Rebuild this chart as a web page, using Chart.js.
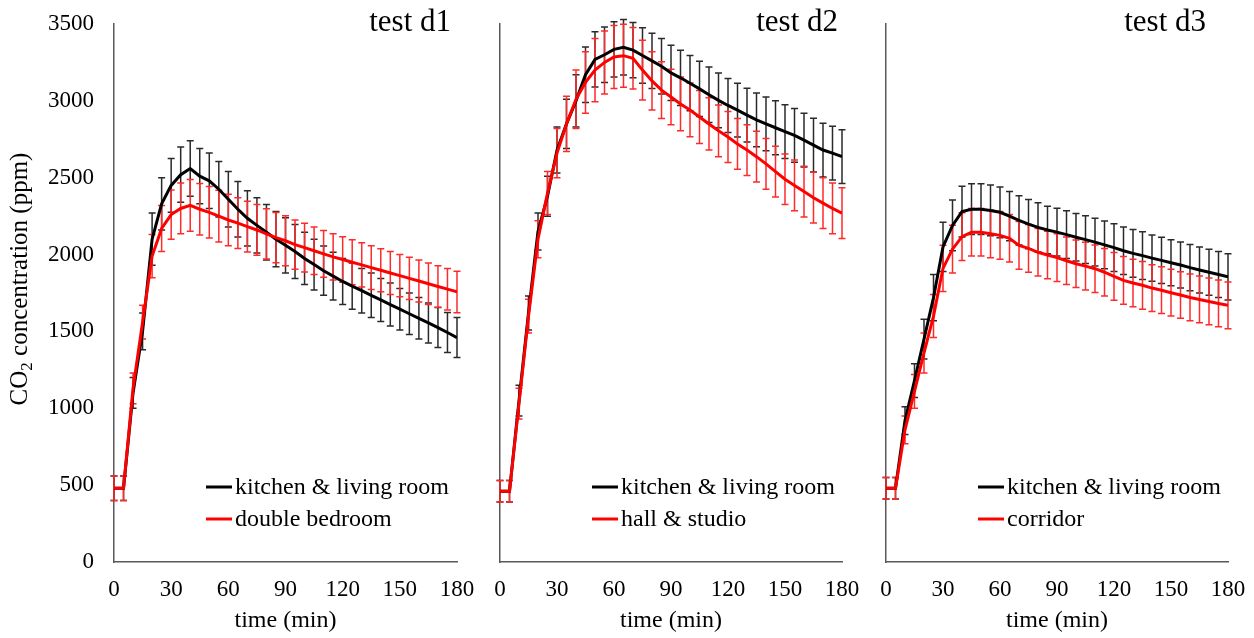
<!DOCTYPE html>
<html>
<head>
<meta charset="utf-8">
<script src="https://cdn.jsdelivr.net/npm/chart.js@4.4.1/dist/chart.umd.min.js"></script>
<style>
  body { margin: 0; background: #fff; width: 1254px; height: 638px; overflow: hidden; position: relative; }
  canvas { position: absolute; top: 0; }
</style>
</head>
<body>
<canvas id="d1" width="477" height="638" style="left:0px"></canvas>
<canvas id="d2" width="385" height="638" style="left:480px"></canvas>
<canvas id="d3" width="388" height="638" style="left:866px"></canvas>
<script>
// time (min), one reading every 5 minutes
var times = [0, 5, 10, 15, 20, 25, 30, 35, 40, 45, 50, 55, 60, 65, 70, 75, 80, 85, 90,
  95, 100, 105, 110, 115, 120, 125, 130, 135, 140, 145, 150, 155, 160, 165, 170, 175, 180];
var xTicks = [0, 30, 60, 90, 120, 150, 180];
var yTicks = [0, 500, 1000, 1500, 2000, 2500, 3000, 3500];

// test d1
var d1Kitchen = [480, 480, 1100, 1500, 2100, 2330, 2450, 2520, 2560, 2510, 2480, 2425, 2360, 2295, 2236, 2190, 2145, 2100, 2060,
  2020, 1975, 1935, 1895, 1860, 1825, 1795, 1765, 1735, 1705, 1675, 1645, 1615, 1585, 1555, 1525, 1493, 1460];
var d1KitchenErr = [80, 80, 100, 120, 170, 170, 175, 180, 180, 180, 180, 180, 180, 180, 180, 180, 180, 180, 180,
  175, 170, 165, 160, 155, 150, 150, 145, 145, 140, 140, 135, 135, 135, 130, 130, 130, 130];
var d1Bedroom = [480, 480, 1130, 1560, 1990, 2170, 2260, 2300, 2320, 2295, 2275, 2250, 2225, 2205, 2182, 2160, 2135, 2110, 2090,
  2065, 2045, 2025, 2005, 1985, 1968, 1950, 1933, 1915, 1898, 1880, 1863, 1845, 1828, 1810, 1792, 1775, 1757];
var d1BedroomErr = [80, 80, 100, 110, 140, 150, 160, 165, 168, 168, 168, 168, 168, 165, 165, 165, 163, 163, 163,
  160, 158, 155, 152, 150, 148, 146, 144, 142, 140, 140, 138, 137, 136, 135, 135, 135, 135];

// test d2
var d2Kitchen = [460, 460, 1050, 1620, 2150, 2380, 2680, 2850, 3000, 3170, 3270, 3300, 3335, 3349, 3330, 3295, 3260, 3225, 3182,
  3150, 3115, 3078, 3040, 3003, 2970, 2940, 2907, 2876, 2850, 2825, 2800, 2775, 2745, 2712, 2680, 2660, 2637];
var d2KitchenErr = [70, 70, 100, 110, 120, 130, 150, 160, 170, 180, 180, 180, 180, 180, 180, 180, 180, 180, 180,
  180, 180, 180, 180, 178, 176, 175, 175, 175, 175, 175, 175, 175, 175, 175, 175, 175, 175];
var d2Hall = [460, 460, 1030, 1600, 2100, 2400, 2660, 2850, 3010, 3120, 3200, 3250, 3285, 3294, 3277, 3200, 3130, 3070, 3025,
  2980, 2941, 2895, 2850, 2805, 2765, 2720, 2680, 2637, 2590, 2540, 2490, 2450, 2410, 2370, 2335, 2300, 2269];
var d2HallErr = [70, 70, 100, 110, 120, 140, 160, 180, 190, 200, 205, 205, 205, 205, 200, 195, 190, 185, 180,
  175, 175, 172, 170, 168, 166, 165, 165, 165, 165, 165, 165, 165, 165, 165, 165, 165, 165];

// test d3
var d3Kitchen = [480, 480, 920, 1180, 1450, 1720, 2050, 2190, 2280, 2295, 2295, 2287, 2275, 2250, 2222, 2198, 2177, 2160, 2146,
  2130, 2113, 2097, 2081, 2063, 2045, 2025, 2008, 1993, 1977, 1962, 1947, 1932, 1915, 1900, 1885, 1870, 1855];
var d3KitchenErr = [70, 70, 90, 110, 130, 150, 160, 165, 165, 165, 165, 165, 165, 160, 160, 160, 160, 155, 155,
  155, 155, 155, 155, 155, 155, 155, 155, 155, 150, 150, 150, 150, 150, 150, 150, 150, 150];
var d3Corridor = [480, 480, 860, 1110, 1360, 1600, 1910, 2035, 2117, 2145, 2145, 2135, 2125, 2106, 2060, 2040, 2015, 1997, 1980,
  1960, 1940, 1925, 1908, 1885, 1858, 1832, 1815, 1800, 1782, 1768, 1752, 1737, 1721, 1708, 1695, 1682, 1670];
var d3CorridorErr = [70, 70, 90, 110, 130, 140, 150, 155, 155, 155, 155, 155, 155, 155, 155, 155, 155, 155, 155,
  155, 155, 155, 155, 155, 155, 155, 155, 155, 152, 152, 152, 152, 152, 152, 152, 152, 152];

var serif = '"Liberation Serif", "Times New Roman", serif';

function pts(vals) {
  return vals.map(function (v, i) { return { x: times[i], y: v }; });
}

// error bars with small caps, drawn under the lines
var errorBars = {
  id: 'errorBars',
  beforeDatasetsDraw: function (chart) {
    var ctx = chart.ctx, xs = chart.scales.x, ys = chart.scales.y;
    chart.data.datasets.forEach(function (ds) {
      ctx.save();
      ctx.strokeStyle = ds.errorColor;
      ctx.lineWidth = 1.5;
      ds.data.forEach(function (p, i) {
        var x = xs.getPixelForValue(p.x);
        var top = ys.getPixelForValue(p.y + ds.errors[i]);
        var bot = ys.getPixelForValue(p.y - ds.errors[i]);
        ctx.beginPath();
        ctx.moveTo(x, top); ctx.lineTo(x, bot);
        ctx.moveTo(x - 3.5, top); ctx.lineTo(x + 3.5, top);
        ctx.moveTo(x - 3.5, bot); ctx.lineTo(x + 3.5, bot);
        ctx.stroke();
      });
      ctx.restore();
    });
  }
};

// panel title, in-plot legend and (first panel) the rotated y title
var panelText = {
  id: 'panelText',
  afterDraw: function (chart) {
    var o = chart.options.plugins.panelText, a = chart.chartArea, ctx = chart.ctx;
    ctx.save();
    ctx.fillStyle = '#000';
    ctx.font = '31px ' + serif;
    ctx.textAlign = 'right';
    ctx.textBaseline = 'alphabetic';
    ctx.fillText(o.title, a.right - o.titleInset, 31);

    ctx.font = '24px ' + serif;
    ctx.textAlign = 'left';
    ctx.textBaseline = 'middle';
    chart.data.datasets.forEach(function (ds, i) {
      var y = 487 + i * 32, x = a.left + 92;
      ctx.strokeStyle = ds.borderColor;
      ctx.lineWidth = 3;
      ctx.beginPath(); ctx.moveTo(x, y); ctx.lineTo(x + 26, y); ctx.stroke();
      ctx.fillText(ds.label, x + 29, y + 1);
    });

    if (o.yTitle) {
      var big = '25px ' + serif, small = '17px ' + serif;
      ctx.font = big;
      var w1 = ctx.measureText('CO').width, w3 = ctx.measureText(' concentration (ppm)').width;
      ctx.font = small;
      var w2 = ctx.measureText('2').width;
      var total = w1 + w2 + w3;
      ctx.translate(27, 279);
      ctx.rotate(-Math.PI / 2);
      ctx.textBaseline = 'alphabetic';
      var x0 = -total / 2;
      ctx.font = big; ctx.fillText('CO', x0, 0);
      ctx.font = small; ctx.fillText('2', x0 + w1, 5);
      ctx.font = big; ctx.fillText(' concentration (ppm)', x0 + w1 + w2, 0);
    }
    ctx.restore();
  }
};

function makePanel(id, title, titleInset, names, series, errs, showY, yWidth, rightPad) {
  new Chart(document.getElementById(id), {
    type: 'line',
    data: {
      datasets: [
        { label: names[0], data: pts(series[0]), errors: errs[0], borderColor: '#000000', errorColor: '#2a2a2a',
          borderWidth: 3, pointRadius: 0, tension: 0, order: 1 },
        { label: names[1], data: pts(series[1]), errors: errs[1], borderColor: '#ff0000', errorColor: '#ff2a2a',
          borderWidth: 3, pointRadius: 0, tension: 0, order: 0 }
      ]
    },
    options: {
      responsive: false,
      animation: false,
      layout: { padding: { left: 0, top: 24, right: rightPad, bottom: 0 } },
      plugins: {
        legend: { display: false },
        tooltip: { enabled: false },
        panelText: { title: title, titleInset: titleInset, yTitle: showY }
      },
      scales: {
        x: {
          type: 'linear', min: 0, max: 180,
          afterBuildTicks: function (s) { s.ticks = xTicks.map(function (v) { return { value: v }; }); },
          afterFit: function (s) { s.height = 76; },
          grid: { display: false, drawTicks: true, tickLength: 12 },
          border: { display: true, color: '#595959', width: 1.5 },
          ticks: { color: '#000', padding: 2, maxRotation: 0, font: { family: serif, size: 23 } },
          title: { display: true, text: 'time (min)', color: '#000', padding: { top: 0, bottom: 3 },
                   font: { family: serif, size: 24 } }
        },
        y: {
          min: 0, max: 3500,
          afterBuildTicks: function (s) { s.ticks = yTicks.map(function (v) { return { value: v }; }); },
          afterFit: function (s) { s.width = yWidth; },
          grid: { display: false, drawTicks: true, tickLength: 18 },
          border: { display: true, color: '#595959', width: 1.5 },
          ticks: { display: showY, color: '#000', padding: 2, font: { family: serif, size: 23 },
                   callback: function (v) { return String(v); } }
        }
      }
    },
    plugins: [errorBars, panelText]
  });
}

makePanel('d1', 'test d1', 6, ['kitchen & living room', 'double bedroom'],
  [d1Kitchen, d1Bedroom], [d1KitchenErr, d1BedroomErr], true, 114, 20);
makePanel('d2', 'test d2', 4, ['kitchen & living room', 'hall & studio'],
  [d2Kitchen, d2Hall], [d2KitchenErr, d2HallErr], false, 20, 23);
makePanel('d3', 'test d3', 22, ['kitchen & living room', 'corridor'],
  [d3Kitchen, d3Corridor], [d3KitchenErr, d3CorridorErr], false, 20, 26);
</script>
</body>
</html>
